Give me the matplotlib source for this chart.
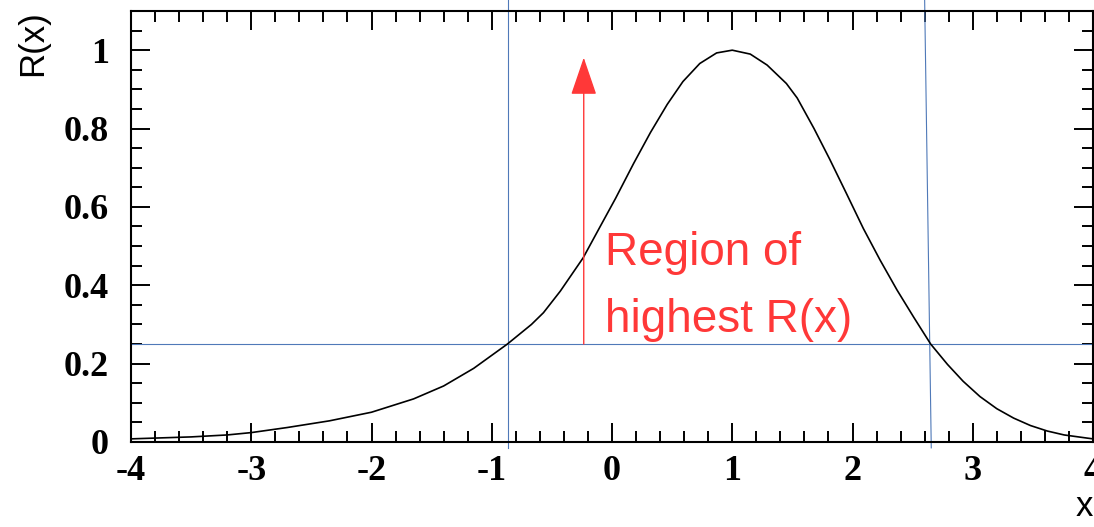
import numpy as np
import matplotlib
matplotlib.use("Agg")
import matplotlib.pyplot as plt
from matplotlib.ticker import MultipleLocator

plt.rcParams["axes.unicode_minus"] = False

# curve
x_vals = [-4.0, -3.5, -3.2, -3.0, -2.7, -2.35, -2.0, -1.65, -1.4, -1.15,
          -0.87, -0.67, -0.57, -0.43, -0.24, -0.1, 0.03, 0.18, 0.32, 0.46,
          0.59, 0.73, 0.87, 1.0, 1.15, 1.29, 1.45, 1.54, 1.68, 1.81,
          1.95, 2.09, 2.23, 2.37, 2.51, 2.65, 2.79, 2.92, 3.06, 3.2,
          3.34, 3.48, 3.62, 3.76, 3.95, 4.0]
r_vals = [0.008, 0.013, 0.018, 0.024, 0.037, 0.054, 0.076, 0.110, 0.143, 0.188,
          0.250, 0.300, 0.330, 0.385, 0.470, 0.549, 0.622, 0.711, 0.790, 0.862,
          0.920, 0.966, 0.993, 1.000, 0.990, 0.962, 0.915, 0.878, 0.800, 0.722,
          0.634, 0.545, 0.464, 0.388, 0.318, 0.250, 0.198, 0.155, 0.116, 0.085,
          0.061, 0.042, 0.028, 0.018, 0.010, 0.008]

threshold = 0.25
x_left = -0.865
x_right_top, x_right_bottom = 2.60, 2.655
arrow_x = -0.235
arrow_top = 0.981
label_lines = ["Region of", "highest R(x)"]
label_y = [0.452, 0.281]
label_x = -0.058

blue = "#4f79b8"
red = "#ff3838"

fig = plt.figure(figsize=(10.94, 5.27), dpi=100)
ax = fig.add_axes([131 / 1094, 85 / 527, 962 / 1094, 431 / 527])

ax.plot(x_vals, r_vals, color="black", lw=1.2, zorder=3)
ax.set_xlim(-4, 4)
ax.set_ylim(0, 1.1)

# guide lines (they run past the frame, like the original)
ax.axhline(threshold, color=blue, lw=0.8, zorder=2)
ax.plot([x_left, x_left], [1.128, -0.015], color=blue, lw=0.8, clip_on=False, zorder=2)
ax.plot([x_right_top, x_right_bottom], [1.128, -0.015], color=blue, lw=0.8,
        clip_on=False, zorder=2)

# red arrow + text
ax.annotate("", xy=(arrow_x, arrow_top), xytext=(arrow_x, threshold),
            arrowprops=dict(arrowstyle="-|>,head_length=24,head_width=8.2",
                            mutation_scale=1, color=red, lw=1.0,
                            shrinkA=0, shrinkB=0))
for txt, yy in zip(label_lines, label_y):
    ax.text(label_x, yy, txt, color=red, fontsize=33, family="Liberation Sans",
            ha="left", va="baseline")

# ROOT style frame and ticks
for s in ax.spines.values():
    s.set_linewidth(1.5)
ax.xaxis.set_major_locator(MultipleLocator(1))
ax.xaxis.set_minor_locator(MultipleLocator(0.2))
ax.yaxis.set_major_locator(MultipleLocator(0.2))
ax.yaxis.set_minor_locator(MultipleLocator(0.05))
ax.tick_params(which="both", direction="in", top=True, right=True, width=1.4)
ax.tick_params(which="major", length=14)
ax.tick_params(which="minor", length=8)
ax.tick_params(axis="x", which="major", pad=9)
ax.tick_params(axis="y", which="major", pad=16)
ax.set_yticks([0, 0.2, 0.4, 0.6, 0.8, 1.0])
ax.set_yticklabels(["0", "0.2", "0.4", "0.6", "0.8", "1"])
for lab in ax.get_xticklabels() + ax.get_yticklabels():
    lab.set_family("Liberation Serif")
    lab.set_fontsize(26)
    lab.set_fontweight("bold")

fig.text(33 / 1094, 1 - 10 / 527, "R(x)", rotation=90, ha="center", va="top",
         fontsize=25, family="Liberation Sans")
fig.text(1093 / 1094, 4 / 527, "x", ha="right", va="bottom",
         fontsize=25, family="Liberation Sans")

fig.savefig("out.png", dpi=100)
